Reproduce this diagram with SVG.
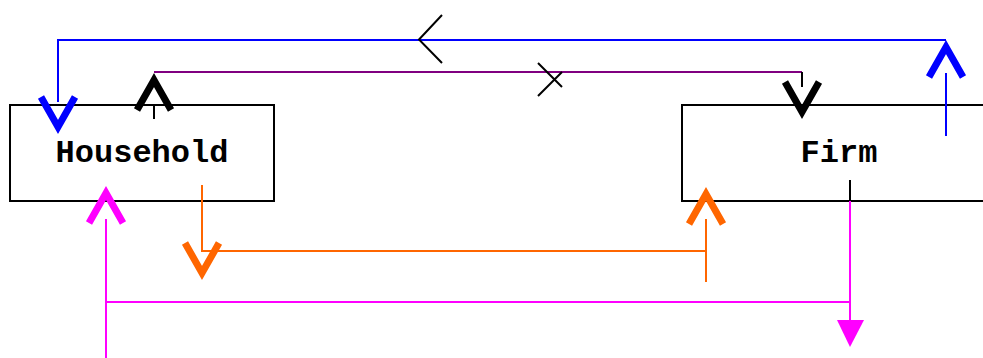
<svg xmlns="http://www.w3.org/2000/svg" xmlns:xlink="http://www.w3.org/1999/xlink" width="983" height="358" viewBox="0 0 983 358">
<style>
.box{fill:#fff;stroke:#000;stroke-width:2}
.lbl{font-family:"Liberation Mono","Courier New",monospace;font-weight:bold;font-size:32px;text-anchor:middle;fill:#000}
.ln{fill:none;stroke-width:2}
.chev{fill:none;stroke-width:7;stroke-linejoin:miter;stroke-miterlimit:10}
.blue{stroke:#0000FF}
.purple{stroke:#800080}
.orange{stroke:#FF6600}
.mag{stroke:#FF00FF}
.blk{stroke:#000}
</style>
<defs>
<path id="chev" d="M-17,-30 L0,0 L17,-30"/>
</defs>
<rect width="983" height="358" fill="#fff"/>
<g id="household">
<rect class="box" x="10" y="105" width="264" height="96"/>
<text class="lbl" x="142" y="162">Household</text>
</g>
<g id="firm">
<rect class="box" x="682" y="105" width="313" height="96"/>
<text class="lbl" x="839" y="162">Firm</text>
</g>
<g id="connectors">
<!-- blue -->
<polyline class="ln blue" points="946,136 946,73"/>
<polyline class="ln blue" points="946,40 58,40 58,102"/>
<use href="#chev" class="chev blue" transform="translate(946,47) rotate(180)"/>
<use href="#chev" class="chev blue" transform="translate(58,127)"/>
<polyline class="ln blk" points="442,15 419,39.5 442,63" stroke-width="1.5"/>
<!-- purple -->
<line class="ln blk" x1="154" y1="105" x2="154" y2="119" stroke-width="1.5"/>
<polyline class="ln purple" points="154,72 802,72"/>
<line class="ln blk" x1="802" y1="72" x2="802" y2="87" stroke-width="1.5"/>
<use href="#chev" class="chev blk" transform="translate(154,80) rotate(180)"/>
<use href="#chev" class="chev blk" transform="translate(802,112)"/>
<path class="ln blk" d="M538,63 L562,87 M538,96 L562,72" stroke-width="1.5"/>
<!-- orange -->
<polyline class="ln orange" points="202,185 202,251 706,251"/>
<line class="ln orange" x1="706" y1="219" x2="706" y2="282"/>
<use href="#chev" class="chev orange" transform="translate(202,273)"/>
<use href="#chev" class="chev orange" transform="translate(706,194) rotate(180)"/>
<!-- magenta -->
<line class="ln mag" x1="106" y1="219" x2="106" y2="358"/>
<polyline class="ln mag" points="106,302 850,302 850,322"/>
<line class="ln mag" x1="850" y1="201" x2="850" y2="302"/>
<line class="ln blk" x1="850" y1="180" x2="850" y2="201"/>
<polygon points="837,320 864,320 850,347" fill="#FF00FF"/>
<use href="#chev" class="chev mag" transform="translate(106,193) rotate(180)"/>
</g>
</svg>
